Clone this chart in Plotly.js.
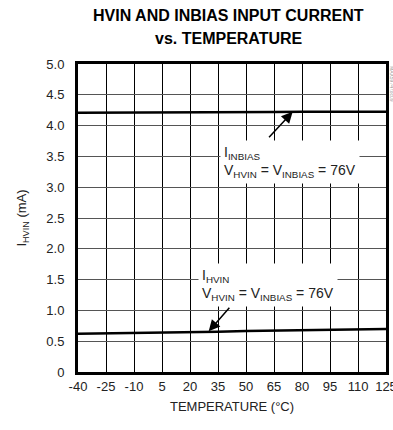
<!DOCTYPE html>
<html>
<head>
<meta charset="utf-8">
<script src="https://cdn.plot.ly/plotly-3.0.1.min.js"></script>
<style>
html,body{margin:0;padding:0;background:#fff;}
#chart{width:393px;height:430px;}
</style>
</head>
<body>
<div id="chart"></div>
<script>
// Data
const temperature = [-40, -25, -10, 5, 20, 35, 50, 65, 80, 95, 110, 125];
const iInbias = [4.21, 4.21, 4.21, 4.215, 4.215, 4.22, 4.22, 4.22, 4.225, 4.225, 4.225, 4.225];
const iHvin = [0.62, 0.625, 0.63, 0.64, 0.65, 0.655, 0.665, 0.67, 0.68, 0.685, 0.69, 0.70];
const xTickVals = [-40, -25, -10, 5, 20, 35, 50, 65, 80, 95, 110, 125];
const xTickText = ["-40", "-25", "-10", "5", "20", "35", "50", "65", "80", "95", "110", "125"];
const yTickVals = [0, 0.5, 1.0, 1.5, 2.0, 2.5, 3.0, 3.5, 4.0, 4.5, 5.0];
const yTickText = ["0", "0.5", "1.0", "1.5", "2.0", "2.5", "3.0", "3.5", "4.0", "4.5", "5.0"];
const titleLines = ["HVIN AND INBIAS INPUT CURRENT", "vs. TEMPERATURE"];

const FONT = '"Liberation Sans Narrow", "Arial Narrow", "Liberation Sans", Arial, sans-serif';

const traces = [
  {x: temperature, y: iInbias, mode: 'lines', line: {color: '#000', width: 2.5}, hoverinfo: 'skip'},
  {x: temperature, y: iHvin, mode: 'lines', line: {color: '#000', width: 2.5}, hoverinfo: 'skip'}
];

const layout = {
  width: 393, height: 430,
  margin: {l: 78, r: 7, t: 64, b: 58},
  paper_bgcolor: '#fff', plot_bgcolor: '#fff',
  showlegend: false,
  font: {family: FONT, color: '#222', size: 13},
  xaxis: {
    range: [-40, 125], tickvals: xTickVals, ticktext: xTickText,
    showgrid: true, gridcolor: '#000', gridwidth: 1,
    showline: true, linecolor: '#000', linewidth: 3, mirror: true,
    ticks: '', zeroline: false, fixedrange: true,
    ticklabeloverflow: 'allow',
    tickfont: {family: FONT, size: 13, color: '#222'},
    title: {text: 'TEMPERATURE (°C)', font: {family: FONT, size: 13, color: '#222'}, standoff: 10}
  },
  yaxis: {
    range: [0, 5], tickvals: yTickVals, ticktext: yTickText,
    showgrid: true, gridcolor: '#555', gridwidth: 1,
    showline: true, linecolor: '#000', linewidth: 3, mirror: true,
    ticks: '', zeroline: false, fixedrange: true,
    ticklabelstandoff: 8,
    tickfont: {family: FONT, size: 13, color: '#222'},
    title: {text: 'I<sub>HVIN</sub> (mA)', font: {family: FONT, size: 13, color: '#222'}, standoff: 17}
  },
  annotations: [
    {
      x: 0.49, y: 1, xref: 'paper', yref: 'paper', xanchor: 'center', yanchor: 'middle',
      yshift: 49, showarrow: false,
      text: '<b>' + titleLines[0] + '</b>', font: {family: FONT, size: 16, color: '#000'}
    },
    {
      x: 0.49, y: 1, xref: 'paper', yref: 'paper', xanchor: 'center', yanchor: 'middle',
      yshift: 26, showarrow: false,
      text: '<b>' + titleLines[1] + '</b>', font: {family: FONT, size: 16, color: '#000'}
    },
    {
      x: 36.1, y: 3.77, xref: 'x', yref: 'y', xanchor: 'left', yanchor: 'top',
      showarrow: false, align: 'left', bgcolor: '#fff', borderpad: 3,
      text: 'I<sub>INBIAS</sub><br>V<sub>HVIN</sub> = V<sub>INBIAS</sub> = 76V',
      font: {family: FONT, size: 14, color: '#222'}
    },
    {
      x: 75, y: 4.225, xref: 'x', yref: 'y',
      ax: -25, ay: 27,
      showarrow: true, arrowhead: 2, arrowsize: 1.5, arrowwidth: 1.5, arrowcolor: '#000',
      text: '', standoff: 0
    },
    {
      x: 24.5, y: 1.77, xref: 'x', yref: 'y', xanchor: 'left', yanchor: 'top',
      showarrow: false, align: 'left', bgcolor: '#fff', borderpad: 3,
      text: 'I<sub>HVIN</sub><br>V<sub>HVIN</sub> = V<sub>INBIAS</sub> = 76V',
      font: {family: FONT, size: 14, color: '#222'}
    },
    {
      x: 30, y: 0.66, xref: 'x', yref: 'y',
      ax: 22, ay: -25,
      showarrow: true, arrowhead: 2, arrowsize: 1.5, arrowwidth: 1.5, arrowcolor: '#000',
      text: '', standoff: 0
    },
    {
      x: 1, y: 1, xref: 'paper', yref: 'paper', xanchor: 'left', yanchor: 'top',
      xshift: 1, showarrow: false, textangle: 90,
      text: 'MAX5974 toc09', font: {family: FONT, size: 5, color: '#999'}
    }
  ]
};

Plotly.newPlot('chart', traces, layout, {displayModeBar: false, staticPlot: true});
</script>
</body>
</html>
